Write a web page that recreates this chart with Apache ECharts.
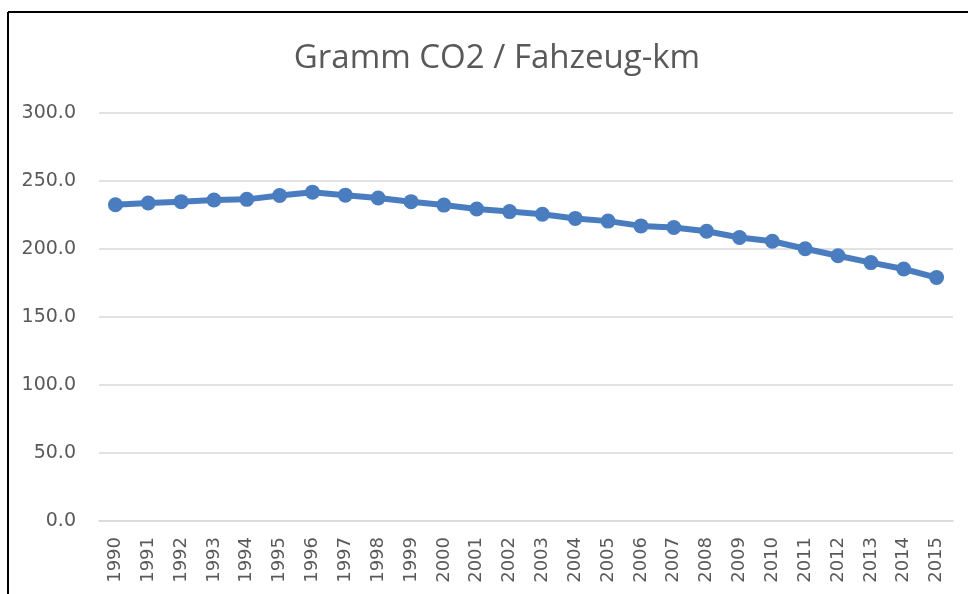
<!DOCTYPE html>
<html>
<head>
<meta charset="utf-8">
<script src="https://cdn.jsdelivr.net/npm/echarts@6/dist/echarts.min.js"></script>
<style>
  html, body { margin: 0; padding: 0; background: #fff; }
  #main { width: 968px; height: 594px; }
</style>
</head>
<body>
<div id="main"></div>
<script>
const years = ['1990', '1991', '1992', '1993', '1994', '1995', '1996', '1997', '1998', '1999',
  '2000', '2001', '2002', '2003', '2004', '2005', '2006', '2007', '2008', '2009',
  '2010', '2011', '2012', '2013', '2014', '2015'];
const gramsPerKm = [232.5, 233.8, 234.8, 236.0, 236.5, 239.3, 241.8, 239.6, 237.5, 234.8,
  232.3, 229.4, 227.5, 225.5, 222.5, 220.5, 217.0, 215.8, 213.0, 208.5,
  205.7, 200.2, 195.0, 190.0, 185.3, 179.0];
const titleText = 'Gramm CO2 / Fahzeug-km';

const chart = echarts.init(document.getElementById('main'));
chart.setOption({
  animation: false,
  title: {
    text: titleText,
    left: 492,
    textAlign: 'center',
    top: 37,
    textStyle: {
      color: '#595959',
      fontSize: 33,
      fontWeight: 'normal',
      fontFamily: 'Open Sans'
    }
  },
  graphic: [
    { type: 'line', shape: { x1: 8, y1: 12, x2: 968, y2: 12 }, style: { stroke: '#000', lineWidth: 2 } },
    { type: 'line', shape: { x1: 8, y1: 12, x2: 8, y2: 594 }, style: { stroke: '#000', lineWidth: 2 } }
  ],
  grid: {
    left: 99,
    right: 15,
    top: 113,
    bottom: 73
  },
  xAxis: {
    type: 'category',
    data: years,
    axisLine: { lineStyle: { color: '#d9d9d9', width: 1.5 } },
    axisTick: { show: false },
    axisLabel: {
      rotate: 90,
      margin: 16,
      color: '#595959',
      fontSize: 18,
      fontFamily: 'DejaVu Sans'
    }
  },
  yAxis: {
    type: 'value',
    min: 0,
    max: 300,
    interval: 50,
    axisLine: { show: false },
    axisTick: { show: false },
    splitLine: { lineStyle: { color: '#d9d9d9', width: 1.5 } },
    axisLabel: {
      margin: 23,
      color: '#595959',
      fontSize: 19,
      fontFamily: 'DejaVu Sans',
      formatter: v => v.toFixed(1)
    }
  },
  series: [{
    type: 'line',
    data: gramsPerKm,
    symbol: 'circle',
    symbolSize: 15,
    lineStyle: { color: '#4a7dbf', width: 6 },
    itemStyle: { color: '#4a7dbf' }
  }]
});
</script>
</body>
</html>
